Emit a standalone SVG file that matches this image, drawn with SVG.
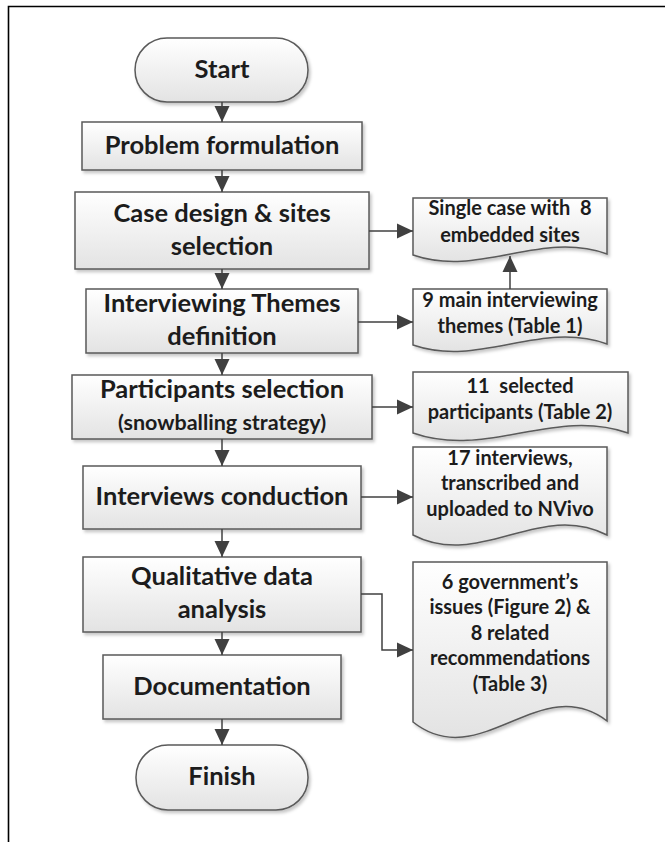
<svg xmlns="http://www.w3.org/2000/svg" width="665" height="842" viewBox="0 0 665 842">
<defs>
<linearGradient id="g" x1="0" y1="0" x2="0" y2="1">
<stop offset="0" stop-color="#ffffff"/>
<stop offset="1" stop-color="#e3e3e3"/>
</linearGradient>
<filter id="sh" x="-10%" y="-10%" width="125%" height="130%">
<feDropShadow dx="2" dy="2.5" stdDeviation="1.5" flood-color="#000" flood-opacity="0.22"/>
</filter>
<marker id="ah" viewBox="0 0 16 16" refX="16" refY="8" markerWidth="16" markerHeight="16" orient="auto" markerUnits="userSpaceOnUse">
<path d="M0,0.5 L16,8 L0,15.5 z" fill="#404040"/>
</marker>
<style>
.n{fill:url(#g);stroke:#5a5a5a;stroke-width:1.5;filter:url(#sh)}
.t{font-family:Lato,"Open Sans",sans-serif;font-weight:bold;font-size:25.5px;fill:#1c1c1c;text-anchor:middle}
.s{font-size:21.5px}
.d{font-family:Lato,"Open Sans",sans-serif;font-weight:bold;font-size:20px;fill:#1c1c1c;text-anchor:middle;white-space:pre}
.c{fill:none;stroke:#404040;stroke-width:1.5;marker-end:url(#ah)}
</style>
</defs>
<rect width="665" height="842" fill="#fff"/>
<path d="M8.5,842 V6.5 H665" fill="none" stroke="#000" stroke-width="1.6"/>

<g id="start"><rect class="n" x="135" y="38" width="173" height="64" rx="32"/><text class="t" x="222" y="78">Start</text></g>
<g id="problem"><rect class="n" x="82" y="122" width="280" height="48"/><text class="t" x="222" y="154">Problem formulation</text></g>
<g id="case"><rect class="n" x="75" y="192" width="294" height="77"/><text class="t" x="222" y="222">Case design &amp; sites</text><text class="t" x="222" y="255">selection</text></g>
<g id="themes"><rect class="n" x="86" y="289" width="272" height="64"/><text class="t" x="222" y="312">Interviewing Themes</text><text class="t" x="222" y="345">definition</text></g>
<g id="participants"><rect class="n" x="72" y="375" width="300" height="64"/><text class="t" x="222" y="398">Participants selection</text><text class="t s" x="222" y="430">(snowballing strategy)</text></g>
<g id="interviews"><rect class="n" x="83" y="466" width="278" height="63"/><text class="t" x="222" y="505">Interviews conduction</text></g>
<g id="analysis"><rect class="n" x="83" y="557" width="278" height="75"/><text class="t" x="222" y="585">Qualitative data</text><text class="t" x="222" y="618">analysis</text></g>
<g id="documentation"><rect class="n" x="103" y="655" width="238" height="64"/><text class="t" x="222" y="695">Documentation</text></g>
<g id="finish"><rect class="n" x="136" y="745" width="172" height="65" rx="32"/><text class="t" x="222" y="785">Finish</text></g>

<g id="doc1"><path class="n" d="M413,198 H607 V254 C540,230 480,278 413,255 Z"/><text class="d" x="510" y="215" xml:space="preserve">Single case with  8</text><text class="d" x="510" y="242">embedded sites</text></g>
<g id="doc2"><path class="n" d="M413,289 H607 V344 C540,320 480,368 413,345 Z"/><text class="d" x="510" y="307">9 main interviewing</text><text class="d" x="510" y="333">themes (Table 1)</text></g>
<g id="doc3"><path class="n" d="M413,372 H628 V433 C554,407 487,459 413,433 Z"/><text class="d" x="520" y="393" xml:space="preserve">11  selected</text><text class="d" x="520" y="419">participants (Table 2)</text></g>
<g id="doc4"><path class="n" d="M413,447 H607 V535 C540,500 480,570 413,535 Z"/><text class="d" x="510" y="465">17 interviews,</text><text class="d" x="510" y="490">transcribed and</text><text class="d" x="510" y="516">uploaded to NVivo</text></g>
<g id="doc5"><path class="n" d="M413,562 H607 V721 C540,670 480,775 413,722 Z"/><text class="d" x="510" y="589">6 government’s</text><text class="d" x="510" y="614">issues (Figure 2) &amp;</text><text class="d" x="510" y="640">8 related</text><text class="d" x="510" y="665">recommendations</text><text class="d" x="510" y="691">(Table 3)</text></g>

<g id="connectors">
<path class="c" d="M222,102 V122"/>
<path class="c" d="M222,170 V192"/>
<path class="c" d="M222,269 V289"/>
<path class="c" d="M222,353 V375"/>
<path class="c" d="M222,439 V466"/>
<path class="c" d="M222,529 V557"/>
<path class="c" d="M222,632 V655"/>
<path class="c" d="M222,719 V745"/>
<path class="c" d="M369,231 H413"/>
<path class="c" d="M358,322 H413"/>
<path class="c" d="M372,407 H413"/>
<path class="c" d="M361,497 H413"/>
<path class="c" d="M361,594 H382 V650 H413"/>
<path class="c" d="M510,289 V256"/>
</g>
</svg>
